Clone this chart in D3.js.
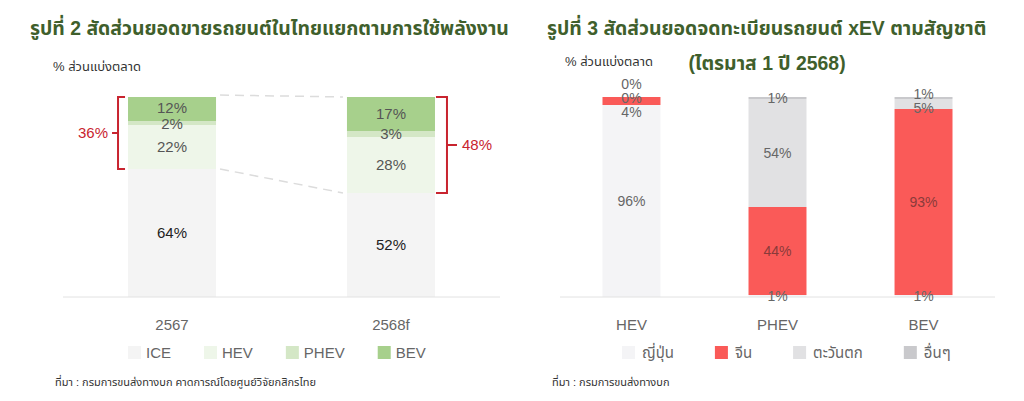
<!DOCTYPE html>
<html>
<head>
<meta charset="utf-8">
<script src="https://cdn.jsdelivr.net/npm/d3@7"></script>
<style>
  body { margin: 0; background: #fff; }
  svg { display: block; font-family: "Liberation Sans", "Noto Sans Thai", "Noto Sans", sans-serif; }
</style>
</head>
<body>
<div id="chart"></div>
<script>
// figure 2 - sales share by energy type
var years = ["2567", "2568f"];
var energyTypes = ["ICE", "HEV", "PHEV", "BEV"];
var iceShare = [64, 52];
var hevShare = [22, 28];
var phevShare = [2, 3];
var bevShare = [12, 17];

// figure 3 - xEV registrations by origin
var xevTypes = ["HEV", "PHEV", "BEV"];
var origins = ["ญี่ปุ่น", "จีน", "ตะวันตก", "อื่นๆ"];
var japanShare = [96, 1, 1];
var chinaShare = [4, 44, 93];
var westShare = [0, 54, 5];
var otherShare = [0, 1, 1];

var W = 1024, H = 401;
var svg = d3.select("#chart").append("svg")
    .attr("width", W)
    .attr("height", H);

var y = d3.scaleLinear().domain([0, 100]).range([297, 97]);

// stacks from rows
function buildRows(cats, keys, cols) {
    return cats.map(function (c, i) {
        var row = {cat: c};
        keys.forEach(function (k, j) { row[k] = cols[j][i]; });
        return row;
    });
}

// spread labels that sit on top of each other (inside one bar)
function spreadLabels(items, gap) {
    items.sort(function (a, b) { return b.cy - a.cy; });
    var groups = [];
    items.forEach(function (it) {
        var g = groups[groups.length - 1];
        if (g && Math.abs(g[g.length - 1].cy - it.cy) < gap) g.push(it);
        else groups.push([it]);
    });
    groups.forEach(function (g) {
        if (g.length < 2) { g[0].ly = g[0].cy; return; }
        var m = d3.mean(g, function (d) { return d.cy; });
        g.forEach(function (d, i) {
            d.ly = m + ((g.length - 1) / 2 - i) * gap;
        });
    });
}

function legend(g, keys, color, x0, gapText, gapItem) {
    var cx = x0;
    keys.forEach(function (k) {
        g.append("rect")
            .attr("x", cx).attr("y", 346)
            .attr("width", 13).attr("height", 13)
            .attr("fill", color(k));
        var t = g.append("text")
            .attr("x", cx + 13 + gapText).attr("y", 358)
            .attr("font-size", 15).attr("fill", "#666")
            .text(k);
        cx += 13 + gapText + t.node().getComputedTextLength() + gapItem;
    });
}

// ---------- left chart ----------
var left = svg.append("g");

left.append("text")
    .attr("x", 30).attr("y", 35)
    .attr("font-size", 19.4).attr("font-weight", "bold")
    .attr("fill", "#3f5f2c")
    .text("รูปที่ 2 สัดส่วนยอดขายรถยนต์ในไทยแยกตามการใช้พลังงาน");

left.append("text")
    .attr("x", 53).attr("y", 71)
    .attr("font-size", 13).attr("fill", "#333")
    .text("% ส่วนแบ่งตลาด");

var xL = d3.scaleBand().domain(years).range([63, 500])
    .paddingInner(0.598).paddingOuter(0.297);

var colorL = d3.scaleOrdinal().domain(energyTypes)
    .range(["#f4f4f4", "#eef6e9", "#d4e7c6", "#a7d08c"]);

var rowsL = buildRows(years, energyTypes, [iceShare, hevShare, phevShare, bevShare]);
var stackL = d3.stack().keys(energyTypes)(rowsL);

left.selectAll("g.layer")
    .data(stackL)
    .enter().append("g")
    .attr("class", "layer")
    .attr("fill", function (d) { return colorL(d.key); })
    .selectAll("rect")
    .data(function (d) { return d; })
    .enter().append("rect")
    .attr("x", function (d) { return xL(d.data.cat); })
    .attr("y", function (d) { return y(d[1]); })
    .attr("width", xL.bandwidth())
    .attr("height", function (d) { return y(d[0]) - y(d[1]); });

// baseline
left.append("line")
    .attr("x1", 63).attr("x2", 500)
    .attr("y1", y(0)).attr("y2", y(0))
    .attr("stroke", "#e2e2e2").attr("stroke-width", 1);

// dashed connectors
var bw = xL.bandwidth();
left.append("line")
    .attr("x1", xL(years[0]) + bw + 4).attr("y1", y(100) - 2)
    .attr("x2", xL(years[1]) - 4).attr("y2", y(100))
    .attr("stroke", "#dcdcdc").attr("stroke-width", 1.5)
    .attr("stroke-dasharray", "9,6");
left.append("line")
    .attr("x1", xL(years[0]) + bw + 4).attr("y1", y(iceShare[0]))
    .attr("x2", xL(years[1]) - 4).attr("y2", y(iceShare[1]))
    .attr("stroke", "#dcdcdc").attr("stroke-width", 1.5)
    .attr("stroke-dasharray", "9,6");

// segment labels
years.forEach(function (yr, i) {
    var items = stackL.map(function (layer) {
        var d = layer[i];
        return {key: layer.key, v: d[1] - d[0], cy: (y(d[0]) + y(d[1])) / 2};
    });
    spreadLabels(items, 16);
    items.forEach(function (it) {
        left.append("text")
            .attr("x", xL(yr) + bw / 2)
            .attr("y", it.ly).attr("dy", "0.35em")
            .attr("text-anchor", "middle")
            .attr("font-size", 15)
            .attr("fill", it.key === "ICE" ? "#222" : "#555")
            .text(it.v + "%");
    });
});

// red brackets for electrified share
var red = "#c8242f";
years.forEach(function (yr, i) {
    var total = hevShare[i] + phevShare[i] + bevShare[i];
    var top = y(100), bot = y(100 - total), mid = (top + bot) / 2;
    var onLeft = i === 0;
    var bx = onLeft ? xL(yr) - 10 : xL(yr) + bw + 12;
    var arm = onLeft ? 7 : -11;
    var tick = onLeft ? -6 : 10;
    left.append("path")
        .attr("d", "M" + (bx + arm) + "," + top + "H" + bx + "V" + bot + "H" + (bx + arm) +
            "M" + bx + "," + mid + "H" + (bx + tick))
        .attr("fill", "none").attr("stroke", red).attr("stroke-width", 2);
    left.append("text")
        .attr("x", onLeft ? bx + tick - 4 : bx + tick + 5)
        .attr("y", mid).attr("dy", "0.35em")
        .attr("text-anchor", onLeft ? "end" : "start")
        .attr("font-size", 15).attr("fill", red)
        .text(total + "%");
});

// x labels
left.selectAll("text.xlab")
    .data(years)
    .enter().append("text")
    .attr("class", "xlab")
    .attr("x", function (d) { return xL(d) + bw / 2; })
    .attr("y", 330)
    .attr("text-anchor", "middle")
    .attr("font-size", 15).attr("fill", "#666")
    .text(function (d) { return d; });

legend(left, energyTypes, colorL, 128, 5, 33);

left.append("text")
    .attr("x", 55).attr("y", 386)
    .attr("font-size", 11).attr("fill", "#333")
    .text("ที่มา : กรมการขนส่งทางบก คาดการณ์โดยศูนย์วิจัยกสิกรไทย");

// ---------- right chart ----------
var right = svg.append("g");

right.append("text")
    .attr("x", 547).attr("y", 35)
    .attr("font-size", 19.4).attr("font-weight", "bold")
    .attr("fill", "#3f5f2c")
    .text("รูปที่ 3 สัดส่วนยอดจดทะเบียนรถยนต์ xEV ตามสัญชาติ");
right.append("text")
    .attr("x", 767).attr("y", 70)
    .attr("text-anchor", "middle")
    .attr("font-size", 19.4).attr("font-weight", "bold")
    .attr("fill", "#3f5f2c")
    .text("(ไตรมาส 1 ปี 2568)");

right.append("text")
    .attr("x", 565).attr("y", 66)
    .attr("font-size", 13).attr("fill", "#333")
    .text("% ส่วนแบ่งตลาด");

var xR = d3.scaleBand().domain(xevTypes).range([560, 995])
    .paddingInner(0.603).paddingOuter(0.291);
var bwR = xR.bandwidth();

var colorR = d3.scaleOrdinal().domain(origins)
    .range(["#f4f4f6", "#fa5a58", "#e1e1e3", "#c9c9cc"]);

var rowsR = buildRows(xevTypes, origins, [japanShare, chinaShare, westShare, otherShare]);
var stackR = d3.stack().keys(origins)(rowsR);

right.selectAll("g.layer")
    .data(stackR)
    .enter().append("g")
    .attr("class", "layer")
    .attr("fill", function (d) { return colorR(d.key); })
    .selectAll("rect")
    .data(function (d) { return d; })
    .enter().append("rect")
    .attr("x", function (d) { return xR(d.data.cat); })
    .attr("y", function (d) { return y(d[1]); })
    .attr("width", bwR)
    .attr("height", function (d) { return y(d[0]) - y(d[1]); });

right.append("line")
    .attr("x1", 560).attr("x2", 995)
    .attr("y1", y(0)).attr("y2", y(0))
    .attr("stroke", "#e2e2e2").attr("stroke-width", 1);

xevTypes.forEach(function (cat, i) {
    var items = stackR.map(function (layer) {
        var d = layer[i];
        return {key: layer.key, v: d[1] - d[0], cy: (y(d[0]) + y(d[1])) / 2};
    });
    spreadLabels(items, 14);
    items.forEach(function (it) {
        // darker red text only where the label sits on a big red block
        var onRed = it.key === "จีน" && it.v > 10;
        right.append("text")
            .attr("x", xR(cat) + bwR / 2)
            .attr("y", it.ly).attr("dy", "0.35em")
            .attr("text-anchor", "middle")
            .attr("font-size", 14)
            .attr("fill", onRed ? "#8a3a3a" : "#666")
            .text(it.v + "%");
    });
});

right.selectAll("text.xlab")
    .data(xevTypes)
    .enter().append("text")
    .attr("class", "xlab")
    .attr("x", function (d) { return xR(d) + bwR / 2; })
    .attr("y", 330)
    .attr("text-anchor", "middle")
    .attr("font-size", 15).attr("fill", "#666")
    .text(function (d) { return d; });

legend(right, origins, colorR, 622, 7, 41);

right.append("text")
    .attr("x", 552).attr("y", 386)
    .attr("font-size", 11).attr("fill", "#333")
    .text("ที่มา : กรมการขนส่งทางบก");
</script>
</body>
</html>
